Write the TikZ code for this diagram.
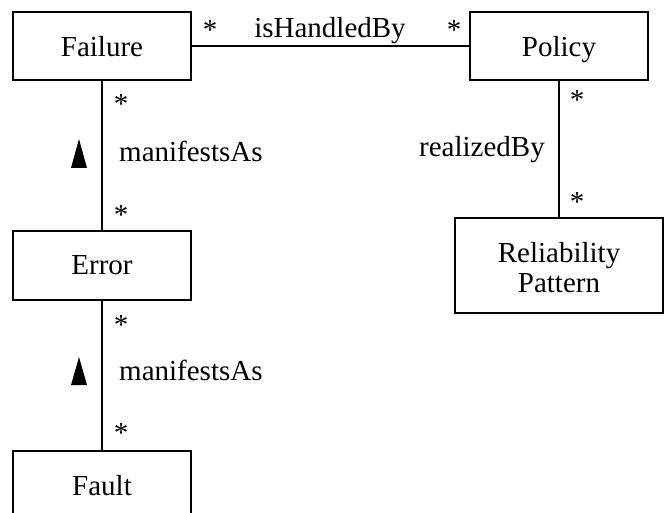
\documentclass[tikz,border=0pt]{standalone}
\usepackage{fontspec}
\setmainfont{Liberation Serif}
\begin{document}
\begin{tikzpicture}[x=1pt,y=-1pt,
  txt/.style={font=\fontsize{29}{30}\selectfont},
  cls/.style={txt,draw,line width=1.6pt,rectangle,inner sep=0pt,
    minimum width=178pt,minimum height=68pt,align=center},
  flat/.style={text depth=0pt},
  mult/.style={txt,anchor=base,inner sep=0pt},
  role/.style={txt,anchor=base west,inner sep=0pt},
  roleleft/.style={txt,anchor=base east,inner sep=0pt},
  assoc/.style={line width=1.6pt},
  navtip/.style={fill=black}]
\clip (0,0) rectangle (664,513);
\fill[white] (0,0) rectangle (664,513);

% classes
\node[cls,flat] (fail) at (102,46) {Failure};
\node[cls,flat] (pol) at (559,46) {Policy};
\node[cls,flat,minimum height=69pt] (err) at (102,265.5) {Error};
\node[cls,flat,minimum height=69pt] (fault) at (102,485.5) {Fault};
\node[cls,minimum width=208pt,minimum height=95pt] (rp) at (559,265.5)
  {\rule{0pt}{23.5pt}Reliability\\Pattern};

% associations
\draw[assoc] (fail.east) -- (pol.west);
\draw[assoc] (fail.south) -- (err.north);
\draw[assoc] (err.south) -- (fault.north);
\draw[assoc] (pol.south) -- (rp.north);

% multiplicities
\node[mult] (m1) at (210,40) {*};
\node[mult] (m2) at (454,40) {*};
\node[mult] (m3) at (121,114) {*};
\node[mult] (m4) at (121,225) {*};
\node[mult] (m5) at (121,334) {*};
\node[mult] (m6) at (121,442) {*};
\node[mult] (m7) at (577,110) {*};
\node[mult] (m8) at (577,212) {*};

% role names
\node[mult] (r1) at (330,38) {isHandledBy};
\node[role] (r2) at (119,162) {manifestsAs};
\node[role] (r3) at (119,380) {manifestsAs};
\node[roleleft] (r4) at (545,157) {realizedBy};

% reading-direction triangles
\fill[navtip] (79,139) -- (71,168) -- (87,168) -- cycle;
\fill[navtip] (79,357) -- (71,385) -- (87,385) -- cycle;
\end{tikzpicture}
\end{document}
